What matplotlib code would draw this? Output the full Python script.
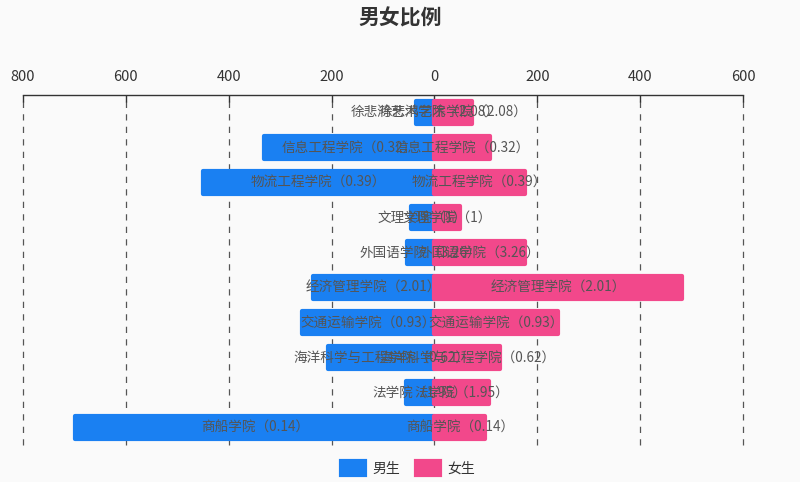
import matplotlib.pyplot as plt

plt.rcParams['font.family'] = ['Noto Sans CJK SC', 'DejaVu Sans']

# 学院 (top -> bottom)
colleges = ['徐悲鸿艺术学院', '信息工程学院', '物流工程学院', '文理学院', '外国语学院',
            '经济管理学院', '交通运输学院', '海洋科学与工程学院', '法学院', '商船学院']
ratios = ['2.08', '0.32', '0.39', '1', '3.26', '2.01', '0.93', '0.62', '1.95', '0.14']
male = [36, 332, 450, 46, 54, 236, 258, 206, 55, 698]
female = [73, 108, 176, 49, 176, 482, 240, 128, 107, 99]
ticks = [-800, -600, -400, -200, 0, 200, 400, 600]

blue = '#1a80f2'
pink = '#f2488b'
bg = '#fafafa'

fig = plt.figure(figsize=(8, 4.82), dpi=100, facecolor=bg)
ax = fig.add_axes([0.02875, 0.077, 0.9, 0.726], facecolor=bg)

y = list(range(len(colleges)))
neg_male = [-m for m in male]
bm = ax.barh(y, neg_male, height=0.66, color=blue, edgecolor=blue, linewidth=3, zorder=3)
bf = ax.barh(y, female, height=0.66, color=pink, edgecolor=pink, linewidth=3, zorder=3)
for b in list(bm) + list(bf):
    b.set_joinstyle('round')

for i in y:
    lab = colleges[i] + '（' + ratios[i] + '）'
    ax.text(-male[i] / 2, i, lab, ha='center', va='center', fontsize=9.8, color='#555555', zorder=4)
    ax.text(female[i] / 2, i, lab, ha='center', va='center', fontsize=9.8, color='#555555', zorder=4)

ax.set_xlim(-800, 600)
ax.set_ylim(len(colleges) - 0.5, -0.5)
ax.xaxis.tick_top()
ax.set_xticks(ticks)
ax.set_xticklabels([str(abs(t)) for t in ticks], fontsize=10.5, color='#333333')
ax.tick_params(axis='x', direction='in', length=5, width=1, color='#333333', pad=8)
ax.set_yticks([])
for s in ['bottom', 'left', 'right']:
    ax.spines[s].set_visible(False)
ax.spines['top'].set_color('#333333')
ax.spines['top'].set_linewidth(1)
ax.grid(axis='x', linestyle=(0, (5, 5)), color='#555555', linewidth=0.9, zorder=0)
for gl in ax.get_xgridlines():
    gl.set_clip_on(False)

fig.text(0.5, 0.962, '男女比例', ha='center', va='center', fontsize=15, fontweight='bold', color='#333333')

leg = fig.legend([bm, bf], ['男生', '女生'], loc='center', bbox_to_anchor=(0.51, 0.028), ncol=2,
                 frameon=False, fontsize=10, handlelength=1.7, handleheight=1.1, columnspacing=1.2,
                 handletextpad=0.5, labelcolor='#333333')

fig.savefig('out.png', dpi=100, facecolor=bg)
